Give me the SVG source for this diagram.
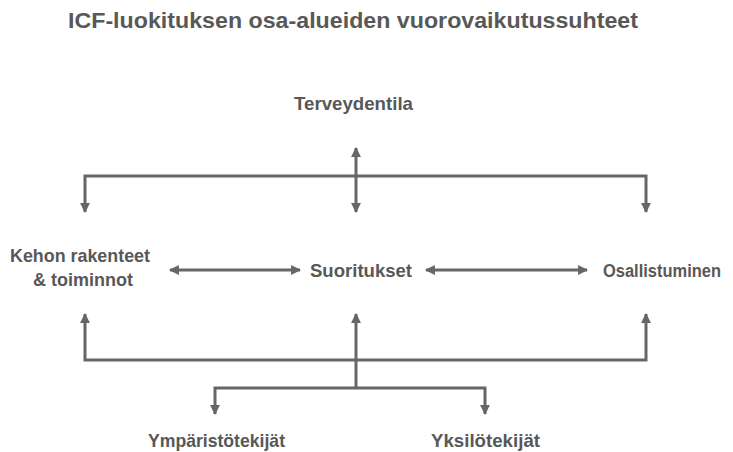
<svg xmlns="http://www.w3.org/2000/svg" width="733" height="452" viewBox="0 0 733 452">
<style>
.t{font-family:"Liberation Sans",Arial,sans-serif;font-weight:bold;fill:#585858;text-anchor:middle}
.lbl{font-size:19px}
.ln{stroke:#666;stroke-width:3;fill:none}
</style>
<defs>
<marker id="ah" viewBox="0 0 10 10" refX="9" refY="5" markerWidth="3.3" markerHeight="3.3" orient="auto-start-reverse" markerUnits="strokeWidth">
<path d="M0,0 L10,5 L0,10 z" fill="#666"/>
</marker>
</defs>
<rect width="733" height="452" fill="#fff"/>
<text class="t" x="353" y="28" style="font-size:22px" textLength="570" lengthAdjust="spacingAndGlyphs">ICF-luokituksen osa-alueiden vuorovaikutussuhteet</text>
<g id="terveydentila"><text class="t lbl" x="353.5" y="110" textLength="119" lengthAdjust="spacingAndGlyphs">Terveydentila</text></g>
<g id="kehon"><text class="t lbl" x="80" y="262" textLength="140" lengthAdjust="spacingAndGlyphs">Kehon rakenteet</text><text class="t lbl" x="83" y="286" textLength="100" lengthAdjust="spacingAndGlyphs">&amp; toiminnot</text></g>
<g id="suoritukset"><text class="t lbl" x="361" y="277" textLength="102" lengthAdjust="spacingAndGlyphs">Suoritukset</text></g>
<g id="osallistuminen"><text class="t lbl" x="662" y="277" style="font-size:18px" textLength="118" lengthAdjust="spacingAndGlyphs">Osallistuminen</text></g>
<g id="ymparisto"><text class="t lbl" x="216.5" y="447" textLength="137" lengthAdjust="spacingAndGlyphs">Ympäristötekijät</text></g>
<g id="yksilo"><text class="t lbl" x="485.5" y="447" textLength="109" lengthAdjust="spacingAndGlyphs">Yksilötekijät</text></g>
<g id="connectors">
<path class="ln" d="M85,212 V176 H646 V212" marker-start="url(#ah)" marker-end="url(#ah)"/>
<path class="ln" d="M356,148 V212" marker-start="url(#ah)" marker-end="url(#ah)"/>
<path class="ln" d="M85,314 V360 H646 V314" marker-start="url(#ah)" marker-end="url(#ah)"/>
<path class="ln" d="M356,314 V388" marker-start="url(#ah)"/>
<path class="ln" d="M215,414 V388 H485 V414" marker-start="url(#ah)" marker-end="url(#ah)"/>
<path class="ln" d="M170,270 H300" marker-start="url(#ah)" marker-end="url(#ah)"/>
<path class="ln" d="M426,270 H587" marker-start="url(#ah)" marker-end="url(#ah)"/>
</g>
</svg>
